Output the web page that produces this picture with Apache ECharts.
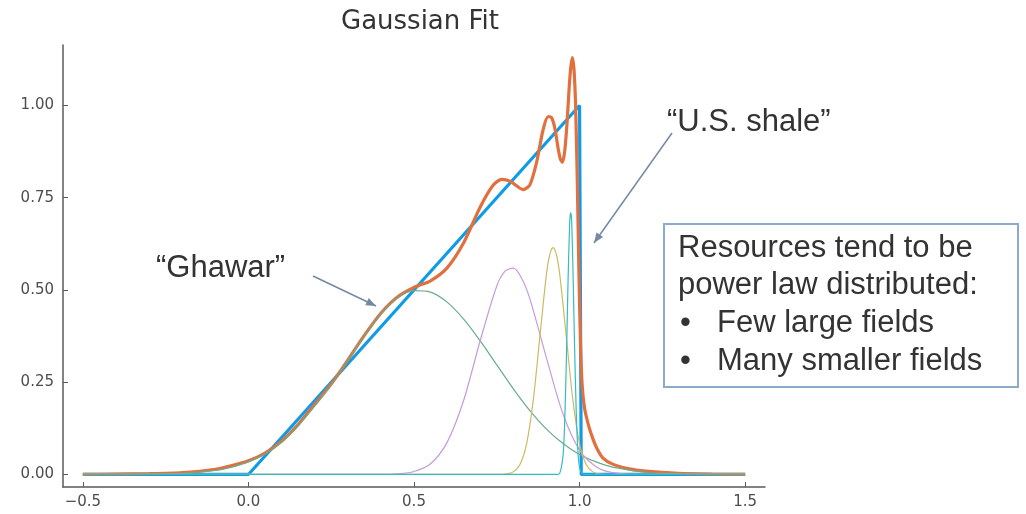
<!DOCTYPE html>
<html>
<head>
<meta charset="utf-8">
<script src="https://cdn.jsdelivr.net/npm/echarts@6/dist/echarts.min.js"></script>
<style>
html,body{margin:0;padding:0;background:#fff;}
#chart{width:1026px;height:514px;}
</style>
</head>
<body>
<div id="chart"></div>
<script>
// ---- data ----
const xTicks = [-0.5, 0, 0.5, 1, 1.5];
const yTicks = [0, 0.25, 0.5, 0.75, 1];

// target distribution (blue)
const targetLine = [[-0.5,0],[0,0],[1,1],[1.005,0],[1.5,0]];

// fitted sum (orange)
const fitSum = [[-0.5,0],[-0.4,0.001],[-0.3,0.002],[-0.2,0.005],[-0.1,0.014],[-0.05,0.024],[0,0.037],[0.05,0.058],[0.1,0.09],[0.15,0.135],[0.2,0.19],[0.25,0.245],[0.3,0.31],[0.35,0.377],[0.4,0.437],[0.45,0.481],[0.5,0.507],[0.55,0.525],[0.6,0.56],[0.65,0.628],[0.7,0.725],[0.74,0.785],[0.765,0.8],[0.79,0.795],[0.81,0.782],[0.83,0.772],[0.85,0.785],[0.87,0.845],[0.89,0.935],[0.905,0.97],[0.915,0.968],[0.925,0.94],[0.935,0.885],[0.942,0.855],[0.948,0.846],[0.955,0.875],[0.962,0.95],[0.968,1.04],[0.973,1.1],[0.978,1.13],[0.983,1.1],[0.988,1.0],[0.993,0.8],[0.998,0.55],[1.003,0.35],[1.008,0.24],[1.015,0.18],[1.025,0.14],[1.035,0.11],[1.05,0.075],[1.07,0.045],[1.1,0.028],[1.15,0.015],[1.2,0.009],[1.3,0.003],[1.4,0.001],[1.5,0]];

// individual components
const compGreen = [[-0.5,0],[-0.4,0.0003],[-0.3,0.001],[-0.2,0.003],[-0.1,0.011],[-0.05,0.02],[0,0.034],[0.05,0.056],[0.1,0.088],[0.15,0.132],[0.2,0.185],[0.25,0.243],[0.3,0.31],[0.35,0.376],[0.4,0.435],[0.45,0.478],[0.5,0.498],[0.55,0.494],[0.6,0.467],[0.65,0.421],[0.7,0.362],[0.75,0.297],[0.8,0.232],[0.85,0.173],[0.9,0.123],[0.95,0.084],[1.0,0.054],[1.05,0.034],[1.1,0.02],[1.2,0.006],[1.3,0.002],[1.4,0.0005],[1.5,0]];
const compPurple = [[-0.5,0],[0.4,0],[0.45,0.0015],[0.5,0.008],[0.55,0.029],[0.6,0.087],[0.65,0.201],[0.7,0.363],[0.75,0.511],[0.775,0.551],[0.8,0.559],[0.825,0.532],[0.85,0.476],[0.9,0.316],[0.95,0.164],[1.0,0.066],[1.05,0.021],[1.1,0.005],[1.2,0],[1.5,0]];
const compYellow = [[-0.5,0],[0.75,0],[0.78,0.0014],[0.8,0.007],[0.82,0.027],[0.84,0.083],[0.86,0.2],[0.88,0.373],[0.9,0.543],[0.91,0.596],[0.92,0.615],[0.93,0.596],[0.94,0.543],[0.96,0.373],[0.98,0.2],[1.0,0.083],[1.02,0.027],[1.04,0.007],[1.06,0.0014],[1.1,0],[1.5,0]];
const compCyan = [[-0.5,0],[0.93,0],[0.94,0.003],[0.95,0.05],[0.955,0.14],[0.96,0.305],[0.965,0.515],[0.97,0.679],[0.973,0.71],[0.976,0.69],[0.98,0.556],[0.985,0.346],[0.99,0.167],[0.995,0.063],[1.0,0.019],[1.01,0.001],[1.02,0],[1.5,0]];

const chart = echarts.init(document.getElementById('chart'), null, {renderer:'canvas'});

const textFont = '"Liberation Sans", Arial, sans-serif';
const axisColor = '#5a5a5a';

function lineSeries(data, color, width, smooth, z){
  return {type:'line', data:data, showSymbol:false, smooth:smooth, z:z,
    lineStyle:{color:color, width:width}, itemStyle:{color:color}, animation:false, silent:true};
}

const option = {
  animation:false,
  backgroundColor:'#ffffff',
  title:{text:'Gaussian Fit', left:415, top:4, textAlign:'center',
    textStyle:{fontFamily:'"DejaVu Sans", sans-serif', fontSize:26, fontWeight:'normal', color:'#333'}},
  grid:{left:63, right:261, top:45, bottom:27, containLabel:false},
  xAxis:{type:'value', min:-0.56, max:1.56,
    axisLine:{onZero:false, lineStyle:{color:axisColor, width:1.5}},
    axisTick:{show:true, inside:true, length:5, customValues:xTicks, lineStyle:{color:axisColor}},
    axisLabel:{customValues:xTicks, margin:8, color:'#4d4d4d', fontSize:15, fontFamily:'"DejaVu Sans", sans-serif',
      formatter:function(v){return v.toFixed(1).replace('-', '\u2212');}},
    splitLine:{show:false}},
  yAxis:{type:'value', min:-0.034, max:1.164,
    axisLine:{show:true, onZero:false, lineStyle:{color:axisColor, width:1.5}},
    axisTick:{show:true, inside:true, length:5, customValues:yTicks, lineStyle:{color:axisColor}},
    axisLabel:{customValues:yTicks, margin:9, color:'#4d4d4d', fontSize:15, fontFamily:'"DejaVu Sans", sans-serif',
      formatter:function(v){return v.toFixed(2);}},
    splitLine:{show:false}},
  series:[
    lineSeries(targetLine, '#0f9be8', 3.2, false, 2),
    lineSeries(fitSum, '#e2703f', 3.2, 0.25, 3),
    lineSeries(compGreen, '#6aac88', 1.2, 0.3, 4),
    lineSeries(compPurple, '#c79bd8', 1.2, 0.3, 5),
    lineSeries(compYellow, '#cbbb62', 1.2, 0.3, 6),
    lineSeries(compCyan, '#35bcbf', 1.2, 0.25, 7)
  ],
  graphic:[
    {type:'text', z:100, style:{text:'\u201CGhawar\u201D', x:156, y:268, verticalAlign:'middle', font:'31px '+textFont, fill:'#333'}},
    {type:'line', z:100, shape:{x1:313,y1:276,x2:376,y2:306}, style:{stroke:'#7489a3', lineWidth:1.5}},
    {type:'polygon', z:100, shape:{points:[[376,306],[365.3,305.3],[368.7,298.1]]}, style:{fill:'#7489a3'}},
    {type:'text', z:100, style:{text:'\u201CU.S. shale\u201D', x:667, y:122, verticalAlign:'middle', font:'31px '+textFont, fill:'#333'}},
    {type:'line', z:100, shape:{x1:672,y1:133,x2:594,y2:243}, style:{stroke:'#7489a3', lineWidth:1.5}},
    {type:'polygon', z:100, shape:{points:[[594,243],[596.5,232.5],[603.1,237.1]]}, style:{fill:'#7489a3'}},
    {type:'rect', z:100, shape:{x:664,y:224,width:354,height:163}, style:{fill:'#ffffff', stroke:'#8ea9cb', lineWidth:2}},
    {type:'text', z:101, style:{text:'Resources tend to be', x:678, y:248, verticalAlign:'middle', font:'31px '+textFont, fill:'#333'}},
    {type:'text', z:101, style:{text:'power law distributed:', x:678, y:285, verticalAlign:'middle', font:'31px '+textFont, fill:'#333'}},
    {type:'text', z:101, style:{text:'\u2022', x:680, y:323, verticalAlign:'middle', font:'31px '+textFont, fill:'#333'}},
    {type:'text', z:101, style:{text:'Few large fields', x:717, y:323, verticalAlign:'middle', font:'31px '+textFont, fill:'#333'}},
    {type:'text', z:101, style:{text:'\u2022', x:680, y:361, verticalAlign:'middle', font:'31px '+textFont, fill:'#333'}},
    {type:'text', z:101, style:{text:'Many smaller fields', x:717, y:361, verticalAlign:'middle', font:'31px '+textFont, fill:'#333'}}
  ]
};
chart.setOption(option);
</script>
</body>
</html>
